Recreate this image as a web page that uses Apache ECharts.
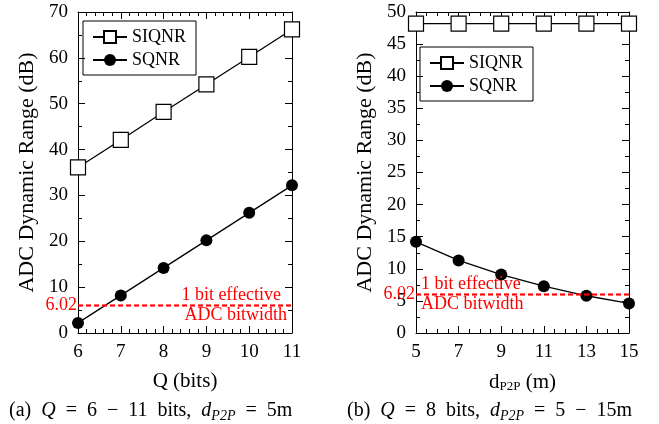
<!DOCTYPE html>
<html><head><meta charset="utf-8">
<script src="https://cdn.jsdelivr.net/npm/echarts@6/dist/echarts.min.js"></script>
<style>html,body{margin:0;padding:0;background:#fff}#c{width:659px;height:424px}</style>
</head><body><div id="c"></div>
<script>
// Data
const qBits = [6, 7, 8, 9, 10, 11];
const siqnrA = [36.1, 42.1, 48.2, 54.2, 60.2, 66.2];
const sqnrA = [2.2, 8.2, 14.2, 20.2, 26.2, 32.2];
const dP2P = [5, 7, 9, 11, 13, 15];
const siqnrB = [48.2, 48.2, 48.2, 48.2, 48.2, 48.2];
const sqnrB = [14.2, 11.3, 9.1, 7.3, 5.8, 4.6];
const effBits = 6.02;

const FONT = "'Liberation Serif', 'Times New Roman', serif";
const chart = echarts.init(document.getElementById('c'));

function pairs(xs, ys){ return xs.map((x,i)=>[x, ys[i]]); }

const grids = [
  {left: 78, top: 12, width: 214, height: 321},
  {left: 416, top: 12, width: 213, height: 321}
];
const axisLine = {show: true, onZero: false, lineStyle: {color: '#000', width: 1}};
function xAx(gi, min, max, interval, minorSplit, pos, name, showLabel){
  return {
    type: 'value', gridIndex: gi, position: pos, min, max, interval,
    axisLine, splitLine: {show: false},
    axisTick: {show: true, inside: true, length: 7, lineStyle: {color: '#000'}},
    minorTick: {show: true, splitNumber: minorSplit, length: 4, lineStyle: {color: '#000'}},
    axisLabel: {show: showLabel, color: '#000', fontFamily: FONT, fontSize: 19, margin: 10},
    name: name, nameLocation: 'middle', nameGap: 38,
    nameTextStyle: {color: '#000', fontFamily: FONT, fontSize: 21,
      rich: {s: {fontFamily: FONT, fontSize: 13, verticalAlign: 'bottom', color: '#000', padding: [9,0,0,0]},
             n: {fontFamily: FONT, fontSize: 21, color: '#000'}}}
  };
}
function yAx(gi, min, max, interval, pos, name, showLabel){
  return {
    type: 'value', gridIndex: gi, position: pos, min, max, interval,
    axisLine, splitLine: {show: false},
    axisTick: {show: true, inside: true, length: 7, lineStyle: {color: '#000'}},
    minorTick: {show: true, splitNumber: 2, length: 4, lineStyle: {color: '#000'}},
    axisLabel: {show: showLabel, color: '#000', fontFamily: FONT, fontSize: 19, margin: 10},
    name: name, nameLocation: 'middle', nameGap: 40,
    nameTextStyle: {color: '#000', fontFamily: FONT, fontSize: 22}
  };
}

const RED = '#ff0000';
function markLine(side){
  const ls = {color: RED, type: [5, 3], width: 1.3, opacity: 1};
  const lbl = (text, position, extra) => Object.assign({show: true, formatter: text, position,
     color: RED, fontFamily: FONT, fontSize: 18}, extra||{});
  const item = (label) => ({yAxis: effBits, lineStyle: ls, label});
  const endSide = side === 'end';
  return {
    silent: true, symbol: 'none',
    lineStyle: ls,
    emphasis: {disabled: true},
    data: [
      item(lbl('6.02', 'start', {distance: 1})),
      item(lbl('1 bit effective', endSide ? 'insideEndTop' : 'insideStartTop', {distance: endSide ? [11, 1] : [5, 1]})),
      item(lbl('ADC bitwidth', endSide ? 'insideEndBottom' : 'insideStartBottom', {distance: endSide ? [5, 1] : [5, 1]}))
    ]
  };
}

const squareSym = {symbol: 'rect', symbolSize: 15, itemStyle: {color: '#fff', borderColor: '#000', borderWidth: 1.2}};
const circleSym = {symbol: 'circle', symbolSize: 12, itemStyle: {color: '#000'}};

const capRich = {
  n: {fontFamily: FONT, fontSize: 20, fontWeight: 'normal', color: '#000'},
  i: {fontFamily: FONT, fontSize: 20, fontStyle: 'italic', fontWeight: 'normal', color: '#000'},
  si: {fontFamily: FONT, fontSize: 14, fontStyle: 'italic', fontWeight: 'normal', color: '#000', verticalAlign: 'bottom', padding: [10,0,0,0]}
};

const option = {
  backgroundColor: '#fff',
  animation: false,
  grid: grids,
  xAxis: [
    xAx(0, 6, 11, 1, 5, 'bottom', 'Q (bits)', true),
    xAx(0, 6, 11, 1, 5, 'top', '', false),
    xAx(1, 5, 15, 2, 4, 'bottom', '{n|d}{s|P2P}{n| (m)}', true),
    xAx(1, 5, 15, 2, 4, 'top', '', false)
  ],
  yAxis: [
    yAx(0, 0, 70, 10, 'left', 'ADC Dynamic Range (dB)', true),
    yAx(0, 0, 70, 10, 'right', '', false),
    yAx(1, 0, 50, 5, 'left', 'ADC Dynamic Range (dB)', true),
    yAx(1, 0, 50, 5, 'right', '', false)
  ],
  legend: [
    {orient: 'vertical', left: 83, top: 21, borderColor: '#000', borderWidth: 1, borderRadius: 0,
     padding: [7, 10, 6, 9], itemGap: 5, itemWidth: 34, itemHeight: 15,
     textStyle: {color: '#000', fontFamily: FONT, fontSize: 18},
     data: ['SIQNR', 'SQNR']},
    {orient: 'vertical', left: 420, top: 47, borderColor: '#000', borderWidth: 1, borderRadius: 0,
     padding: [7, 10, 6, 9], itemGap: 5, itemWidth: 34, itemHeight: 15,
     textStyle: {color: '#000', fontFamily: FONT, fontSize: 18},
     data: ['SIQNR', 'SQNR']}
  ],
  title: [
    {left: 4, top: 394, text: '{n|(a)  }{i|Q}{n|  =  6  −  11  bits,  }{i|d}{si|P2P}{n|  =  5m}',
     textStyle: {rich: capRich}},
    {left: 342, top: 394, text: '{n|(b)  }{i|Q}{n|  =  8  bits,  }{i|d}{si|P2P}{n|  =  5  −  15m}',
     textStyle: {rich: capRich}}
  ],
  series: [
    Object.assign({name: 'SIQNR', type: 'line', xAxisIndex: 0, yAxisIndex: 0, data: pairs(qBits, siqnrA),
      lineStyle: {color: '#000', width: 1.3}, z: 3}, squareSym),
    Object.assign({name: 'SQNR', type: 'line', xAxisIndex: 0, yAxisIndex: 0, data: pairs(qBits, sqnrA),
      lineStyle: {color: '#000', width: 1.3}, z: 3, markLine: markLine('end')}, circleSym),
    Object.assign({name: 'SIQNR', type: 'line', xAxisIndex: 2, yAxisIndex: 2, data: pairs(dP2P, siqnrB),
      lineStyle: {color: '#000', width: 1.3}, z: 3}, squareSym),
    Object.assign({name: 'SQNR', type: 'line', xAxisIndex: 2, yAxisIndex: 2, data: pairs(dP2P, sqnrB),
      lineStyle: {color: '#000', width: 1.3}, z: 3, markLine: markLine('start')}, circleSym)
  ]
};
chart.setOption(option);
</script></body></html>
